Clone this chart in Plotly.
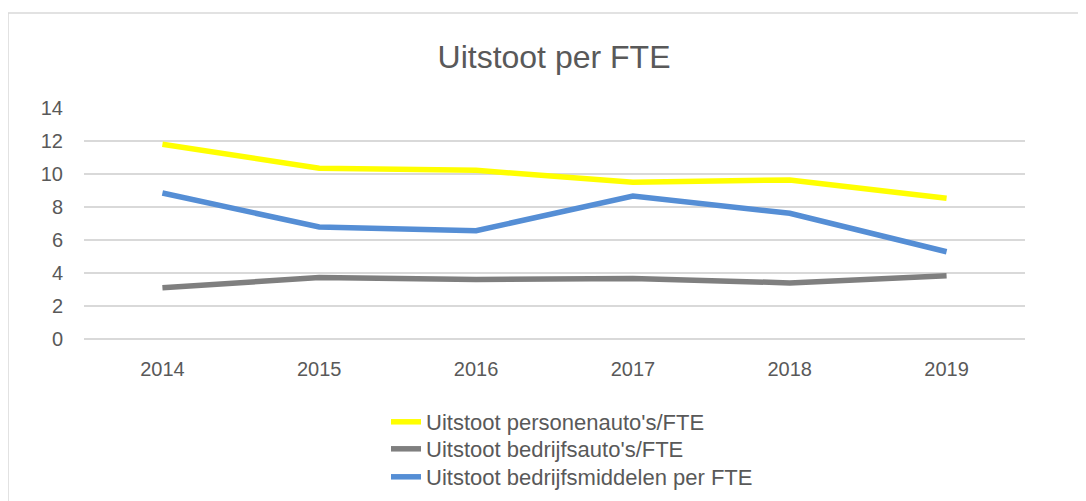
import plotly.graph_objects as go

years = ["2014", "2015", "2016", "2017", "2018", "2019"]
personenauto = [11.8, 10.35, 10.22, 9.5, 9.64, 8.53]
bedrijfsauto = [3.1, 3.73, 3.61, 3.67, 3.4, 3.83]
bedrijfsmiddelen = [8.85, 6.79, 6.56, 8.67, 7.62, 5.29]

names = ["Uitstoot personenauto's/FTE", "Uitstoot bedrijfsauto's/FTE",
         "Uitstoot bedrijfsmiddelen per FTE"]
colors = ["#FFFF00", "#7F7F7F", "#558ED5"]
series = [personenauto, bedrijfsauto, bedrijfsmiddelen]

FONT = "Liberation Sans, Arial, sans-serif"
TXT = "#595959"

# page has an 8px body margin: work in figure pixels = screen pixels - 8
O = 8
W, H = 1086 - O, 501 - O
L, T = 84 - O, 108 - O
Rpx, Bpx = 1025 - O, 339 - O
R, B = W - Rpx, H - Bpx
pw = W - L - R
ph = H - T - B


def px_x(sx):
    return (sx - O - L) / pw


def px_y(sy):
    return (Bpx - (sy - O)) / ph


legend_ids = ["legend", "legend2", "legend3"]
row_tops = [401, 428, 456]

fig = go.Figure()
for n, c, s, lid in zip(names, colors, series, legend_ids):
    fig.add_trace(go.Scatter(x=years, y=s, name=n, mode="lines", legend=lid,
                             line=dict(color=c, width=5.5)))

legend_layout = {}
for lid, top in zip(legend_ids, row_tops):
    legend_layout[lid] = dict(x=px_x(386), xanchor="left",
                              y=px_y(top), yanchor="top",
                              font=dict(size=22, color=TXT, family=FONT),
                              bgcolor="rgba(0,0,0,0)")

fig.update_layout(
    width=W, height=H,
    margin=dict(l=L, r=R, t=T, b=B, autoexpand=False),
    paper_bgcolor="white", plot_bgcolor="white",
    font=dict(family=FONT, color=TXT),
    title=dict(text="Uitstoot per FTE", xref="container", x=(554 - O) / W,
               xanchor="center", yref="container", y=1 - (57 - O) / H,
               yanchor="middle",
               font=dict(size=32, color=TXT, family=FONT)),
    showlegend=True,
    xaxis=dict(type="category", range=[-0.5, 5.5], showgrid=False,
               showline=False, zeroline=False, automargin=False,
               ticks="outside", ticklen=12, tickcolor="rgba(0,0,0,0)",
               tickfont=dict(size=20, color=TXT, family=FONT), fixedrange=True),
    yaxis=dict(range=[0, 14], dtick=2, showgrid=True, gridcolor="#D9D9D9",
               gridwidth=1.5, zeroline=True, zerolinecolor="#D9D9D9",
               zerolinewidth=1.5, showline=False, automargin=False,
               ticks="outside", ticklen=16, tickcolor="rgba(0,0,0,0)",
               tickfont=dict(size=20, color=TXT, family=FONT), fixedrange=True),
    shapes=[dict(type="rect", xref="paper", yref="paper",
                 x0=px_x(8), x1=px_x(1110),
                 y0=px_y(530), y1=px_y(13),
                 line=dict(color="#D9D9D9", width=1.5), layer="below")],
    **legend_layout,
)

fig.write_html("out.html")
